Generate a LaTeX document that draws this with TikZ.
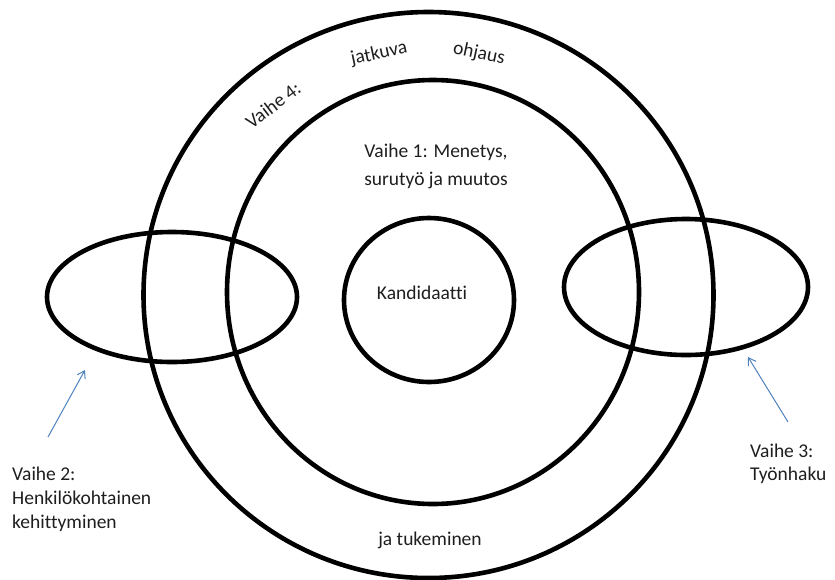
\documentclass[tikz,border=0pt]{standalone}
\usepackage{fontspec}
\setmainfont{Carlito}[Ligatures=NoCommon]
\usetikzlibrary{arrows.meta}
\definecolor{arrowblue}{RGB}{79,129,189}
\definecolor{txt}{RGB}{30,30,30}
\begin{document}
\begin{tikzpicture}[x=1pt,y=-1pt,
  ring/.style={draw=black,line width=4.6pt},
  lbl/.style={inner sep=0pt,text=txt,font=\fontsize{19.5}{24}\selectfont},
  pointer/.style={draw=arrowblue,line width=1pt,-{Straight Barb[length=7pt,width=9pt]}}]
\useasboundingbox (0,0) rectangle (835,579);
% rings and ellipses
\draw[ring] (428.5,295) ellipse [x radius=285, y radius=283];
\draw[ring] (433,292) ellipse [x radius=206, y radius=212];
\draw[ring] (429,300) ellipse [x radius=85, y radius=82];
\draw[ring] (172,297) ellipse [x radius=125, y radius=65];
\draw[ring] (686,287) ellipse [x radius=122, y radius=68];
% texts
\node[lbl,anchor=base] (k) at (422,299) {Kandidaatti};
\node[lbl,anchor=base] (v1a) at (436,157) {Vaihe 1: Menetys,};
\node[lbl,anchor=base] (v1b) at (436,185) {surutyö ja muutos};
\node[lbl,anchor=base] (jt) at (430,545) {ja tukeminen};
\node[lbl,rotate=37] (v4) at (273,105) {Vaihe 4:};
\node[lbl,rotate=12] (jk) at (379,54) {jatkuva};
\node[lbl,rotate=-12] (oh) at (479,54) {ohjaus};
\node[lbl,anchor=base west] (v2a) at (12,480) {Vaihe 2:};
\node[lbl,anchor=base west] (v2b) at (12,504) {Henkilökohtainen};
\node[lbl,anchor=base west] (v2c) at (12,528) {kehittyminen};
\node[lbl,anchor=base west] (v3a) at (750,457) {Vaihe 3:};
\node[lbl,anchor=base west] (v3b) at (750,480) {Työnhaku};
% arrows
\coordinate (a2s) at (48,437);
\coordinate (a2e) at (85,370);
\coordinate (a3s) at (788,422);
\coordinate (a3e) at (748,357);
\draw[pointer] (a2s) -- (a2e);
\draw[pointer] (a3s) -- (a3e);
\end{tikzpicture}
\end{document}
